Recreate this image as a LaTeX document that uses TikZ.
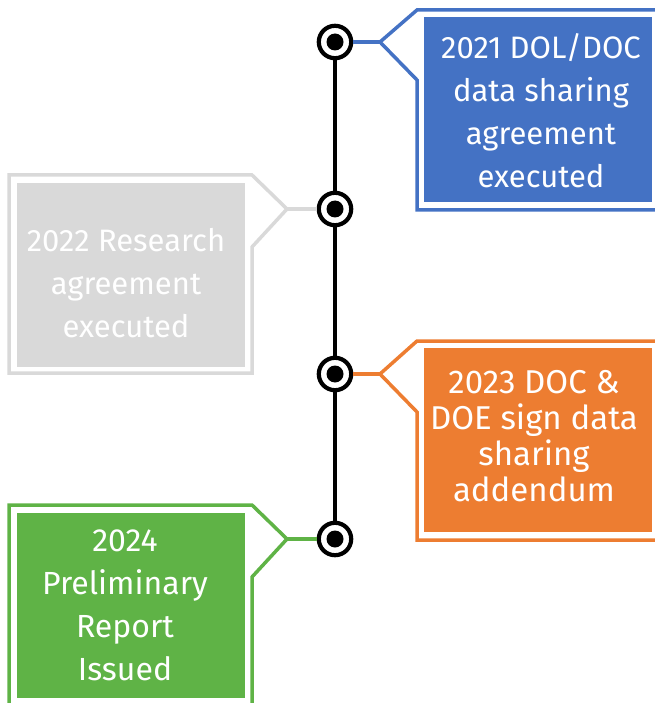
\documentclass[tikz,border=0pt]{standalone}
\usepackage{fontspec}
\setmainfont{Fira Sans}
\definecolor{cblue}{HTML}{4472C4}
\definecolor{corange}{HTML}{ED7D31}
\definecolor{cgreen}{HTML}{5FB346}
\definecolor{cgray}{HTML}{D9D9D9}
\tikzset{
  outline/.style={line width=3.5pt, draw=#1, line join=miter},
  fillbox/.style={fill=#1, draw=none},
  label/.style={text=white, align=center, font=\fontsize{31}{43}\selectfont, inner sep=0pt},
  ring/.style={circle, draw=black, line width=4.2pt, fill=white, minimum size=32.4pt, inner sep=0pt},
  dot/.style={circle, fill=black, minimum size=17pt, inner sep=0pt},
  tline/.style={line width=3.5pt, black},
  conn/.style={line width=3.5pt, draw=#1}
}
\begin{document}
\begin{tikzpicture}[x=1pt,y=-1pt]
\useasboundingbox (0,0) rectangle (654,703);
% callout outlines and fills
\draw[outline=cblue] (417,10) -- (380,42) -- (417,80) -- (417,210) -- (662,210) -- (662,10) -- cycle;
\fill[cblue] (424,17) rectangle (652,202);
\draw[outline=cgray] (9,175) -- (252,175) -- (287,209) -- (252,247) -- (252,373) -- (9,373) -- cycle;
\fill[cgray] (17,183) rectangle (245,367);
\draw[outline=corange] (417,341) -- (380,374) -- (417,412) -- (417,540) -- (662,540) -- (662,341) -- cycle;
\fill[corange] (424,348) rectangle (652,532);
\draw[outline=cgreen] (9,505) -- (252,505) -- (287,539) -- (252,577) -- (252,712) -- (9,712) -- cycle;
\fill[cgreen] (17,513) rectangle (245,698);
% tips
\coordinate (t1) at (380,42);
\coordinate (t2) at (287,209);
\coordinate (t3) at (380,374);
\coordinate (t4) at (287,539);
% circles
\node[ring] (c1) at (335,42) {};
\node[ring] (c2) at (335,209) {};
\node[ring] (c3) at (335,374) {};
\node[ring] (c4) at (335,539) {};
% timeline
\draw[tline] (c1) -- (c2);
\draw[tline] (c2) -- (c3);
\draw[tline] (c3) -- (c4);
% connectors
\draw[conn=cblue] (c1) -- (t1);
\draw[conn=cgray] (c2) -- (t2);
\draw[conn=corange] (c3) -- (t3);
\draw[conn=cgreen] (c4) -- (t4);
% dots
\node[dot] (d1) at (c1) {};
\node[dot] (d2) at (c2) {};
\node[dot] (d3) at (c3) {};
\node[dot] (d4) at (c4) {};
% labels
\node[label] (l1) at (541,111) {2021 DOL/DOC\\data sharing\\agreement\\executed};
\node[label] (l2) at (126,283) {2022 Research\\agreement\\executed};
\node[label, font=\fontsize{33}{36}\selectfont] (l3) at (534,436) {2023 DOC \&\\DOE sign data\\sharing\\addendum};
\node[label, font=\fontsize{32}{43}\selectfont] (l4) at (125,605) {2024\\Preliminary\\Report\\Issued};
\end{tikzpicture}
\end{document}
